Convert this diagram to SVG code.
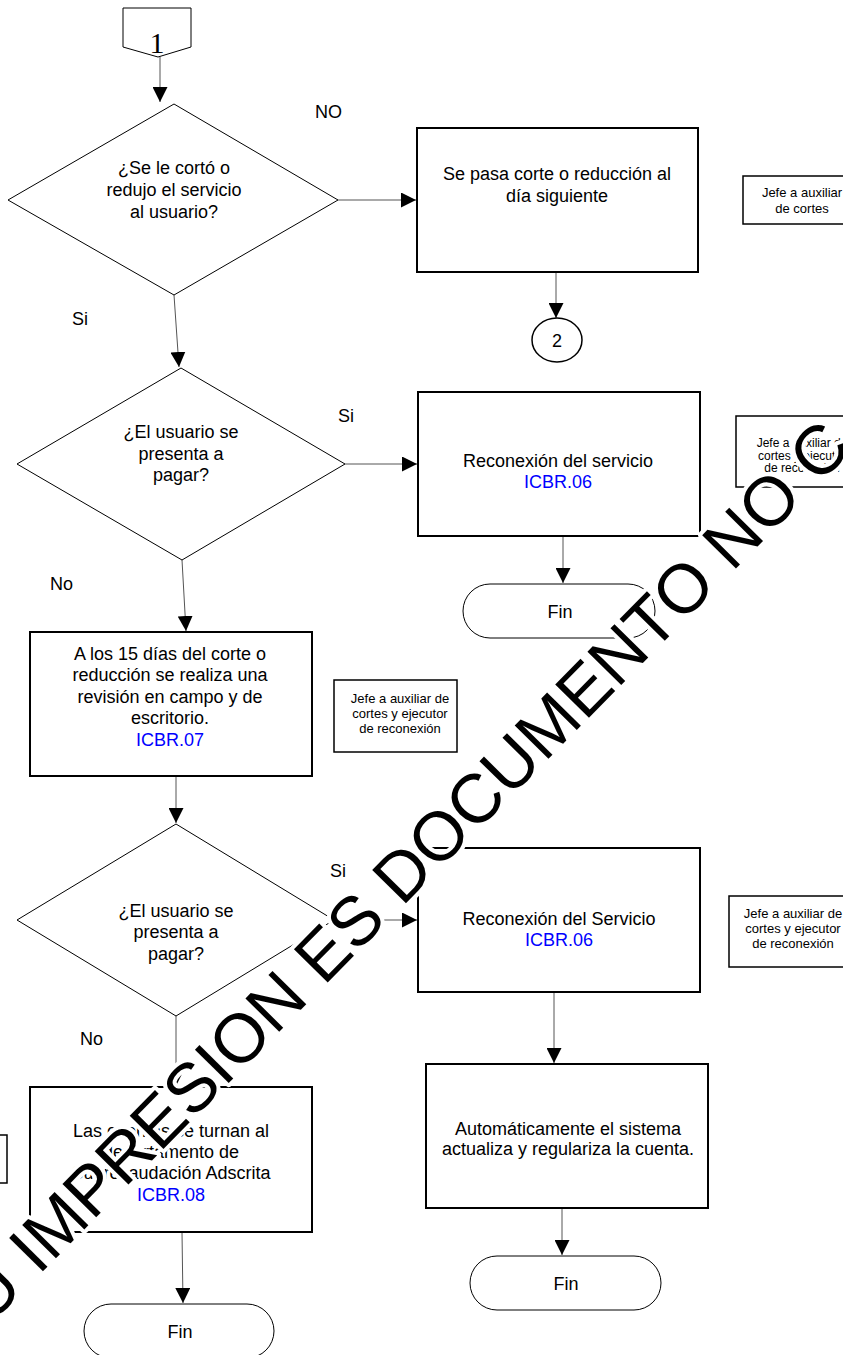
<svg xmlns="http://www.w3.org/2000/svg" width="843" height="1355" viewBox="0 0 843 1355">
<style>
text{font-family:"Liberation Sans",Arial,sans-serif;fill:#000}
.t{font-size:18px;text-anchor:middle}
.l{font-size:18px}
.s{font-size:13px;text-anchor:middle}
.s2{font-size:12px;text-anchor:middle}
.b{fill:#0000ff}
.proc{fill:#fff;stroke:#000;stroke-width:2}
.dec{fill:#fff;stroke:#000;stroke-width:1}
.term{fill:#fff;stroke:#000;stroke-width:1}
.resp{fill:#fff;stroke:#000;stroke-width:1.5}
.c{fill:none;stroke:#555;stroke-width:1;marker-end:url(#arr)}
.wm{font-size:69px;fill:#000;stroke:#fff;stroke-width:8;paint-order:stroke;stroke-linejoin:round}
</style>
<defs>
<marker id="arr" markerWidth="15" markerHeight="15" refX="15" refY="7.5" orient="auto" markerUnits="userSpaceOnUse"><path d="M0,0 L15,7.5 L0,15 z" fill="#000"/></marker>
</defs>
<rect width="843" height="1355" fill="#fff"/>
<g id="connectors">
<line class="c" x1="160" y1="57" x2="160" y2="102"/>
<line class="c" x1="338" y1="200" x2="416" y2="200"/>
<line class="c" x1="556" y1="272" x2="556" y2="318"/>
<line class="c" x1="174" y1="295" x2="179" y2="367"/>
<line class="c" x1="345" y1="464" x2="417" y2="464"/>
<line class="c" x1="563" y1="536" x2="563" y2="583"/>
<line class="c" x1="182" y1="560" x2="186" y2="631"/>
<line class="c" x1="176" y1="776" x2="176" y2="823"/>
<line class="c" x1="334" y1="920" x2="417" y2="920"/>
<line class="c" x1="554" y1="992" x2="554" y2="1063"/>
<line class="c" x1="176" y1="1016" x2="176" y2="1086"/>
<line class="c" x1="562" y1="1208" x2="562" y2="1255"/>
<line class="c" x1="182" y1="1232" x2="183" y2="1303"/>
</g>
<g id="labels">
<text class="l" x="315" y="118">NO</text>
<text class="l" x="72" y="325">Si</text>
<text class="l" x="338" y="422">Si</text>
<text class="l" x="50" y="590">No</text>
<text class="l" x="330" y="877">Si</text>
<text class="l" x="80" y="1045">No</text>
</g>
<g id="n_start">
<path d="M123,8 L191,8 L191,47 L158,57 L123,47 Z" fill="#fff" stroke="#000" stroke-width="1"/>
<text x="157" y="53" style="font-family:'Liberation Serif',serif" font-size="30" text-anchor="middle">1</text>
</g>
<g id="n_dec1">
<polygon class="dec" points="174,104 338,200 174,295 8,200"/>
<text class="t" x="174" y="174">¿Se le cortó o</text>
<text class="t" x="174" y="196">redujo el servicio</text>
<text class="t" x="174" y="218">al usuario?</text>
</g>
<g id="n_pasa">
<rect class="proc" x="417" y="128" width="281" height="144"/>
<text class="t" x="557" y="180">Se pasa corte o reducción al</text>
<text class="t" x="557" y="202">día siguiente</text>
</g>
<g id="n_resp1">
<rect class="resp" x="743" y="176" width="118" height="48"/>
<text class="s" x="802" y="197">Jefe a auxiliar</text>
<text class="s" x="802" y="213">de cortes</text>
</g>
<g id="n_conn2">
<ellipse cx="557" cy="340" rx="25" ry="22" fill="#fff" stroke="#000" stroke-width="1.5"/>
<text class="t" x="557" y="347">2</text>
</g>
<g id="n_dec2">
<polygon class="dec" points="181,368 345,464 182,560 17,464"/>
<text class="t" x="181" y="438">¿El usuario se</text>
<text class="t" x="181" y="460">presenta a</text>
<text class="t" x="181" y="481">pagar?</text>
</g>
<g id="n_recon1">
<rect class="proc" x="418" y="392" width="282" height="144"/>
<text class="t" x="558" y="467">Reconexión del servicio</text>
<text class="t b" x="558" y="488">ICBR.06</text>
</g>
<g id="n_resp2">
<rect class="resp" x="736" y="416" width="123" height="71"/>
<text class="s2" x="802" y="447">Jefe a auxiliar de</text>
<text class="s2" x="802" y="460">cortes y ejecutor</text>
<text class="s2" x="802" y="472">de reconexión</text>
</g>
<g id="n_fin1">
<rect class="term" x="463" y="584" width="192" height="54" rx="27"/>
<text class="t" x="560" y="618">Fin</text>
</g>
<g id="n_rev">
<rect class="proc" x="30" y="632" width="282" height="144"/>
<text class="t" x="170" y="660">A los 15 días del corte o</text>
<text class="t" x="170" y="681">reducción se realiza una</text>
<text class="t" x="170" y="703">revisión en campo y de</text>
<text class="t" x="170" y="724">escritorio.</text>
<text class="t b" x="170" y="746">ICBR.07</text>
</g>
<g id="n_resp3">
<rect class="resp" x="334" y="680" width="123" height="72"/>
<text class="s" x="400" y="703">Jefe a auxiliar de</text>
<text class="s" x="400" y="718">cortes y ejecutor</text>
<text class="s" x="400" y="733">de reconexión</text>
</g>
<g id="n_dec3">
<polygon class="dec" points="176,824 334,920 176,1016 17,920"/>
<text class="t" x="176" y="917">¿El usuario se</text>
<text class="t" x="176" y="938">presenta a</text>
<text class="t" x="176" y="960">pagar?</text>
</g>
<g id="n_recon2">
<rect class="proc" x="418" y="848" width="282" height="144"/>
<text class="t" x="559" y="925">Reconexión del Servicio</text>
<text class="t b" x="559" y="946">ICBR.06</text>
</g>
<g id="n_resp4">
<rect class="resp" x="729" y="896" width="126" height="71"/>
<text class="s" x="793" y="918">Jefe a auxiliar de</text>
<text class="s" x="793" y="933">cortes y ejecutor</text>
<text class="s" x="793" y="948">de reconexión</text>
</g>
<g id="n_auto">
<rect class="proc" x="426" y="1064" width="282" height="144"/>
<text class="t" x="568" y="1135">Automáticamente el sistema</text>
<text class="t" x="568" y="1155">actualiza y regulariza la cuenta.</text>
</g>
<g id="n_fin3">
<rect class="term" x="470" y="1256" width="191" height="54" rx="27"/>
<text class="t" x="566" y="1290">Fin</text>
</g>
<g id="n_resp5">
<rect class="resp" x="-116" y="1135" width="123" height="48"/>
</g>
<g id="n_turn">
<rect class="proc" x="30" y="1087" width="282" height="145"/>
<text class="t" x="171" y="1137">Las cuentas se turnan al</text>
<text class="t" x="171" y="1158">departamento de</text>
<text class="t" x="171" y="1179">Subrecaudación Adscrita</text>
<text class="t b" x="171" y="1201">ICBR.08</text>
</g>
<g id="n_fin2">
<rect class="term" x="84" y="1304" width="190" height="54" rx="27"/>
<text class="t" x="180" y="1338">Fin</text>
</g>
<g id="watermark">
<text class="wm" transform="translate(-10,1325) rotate(-45.4)">U IMPRESION ES DOCUMENTO NO C</text>
</g>
</svg>
